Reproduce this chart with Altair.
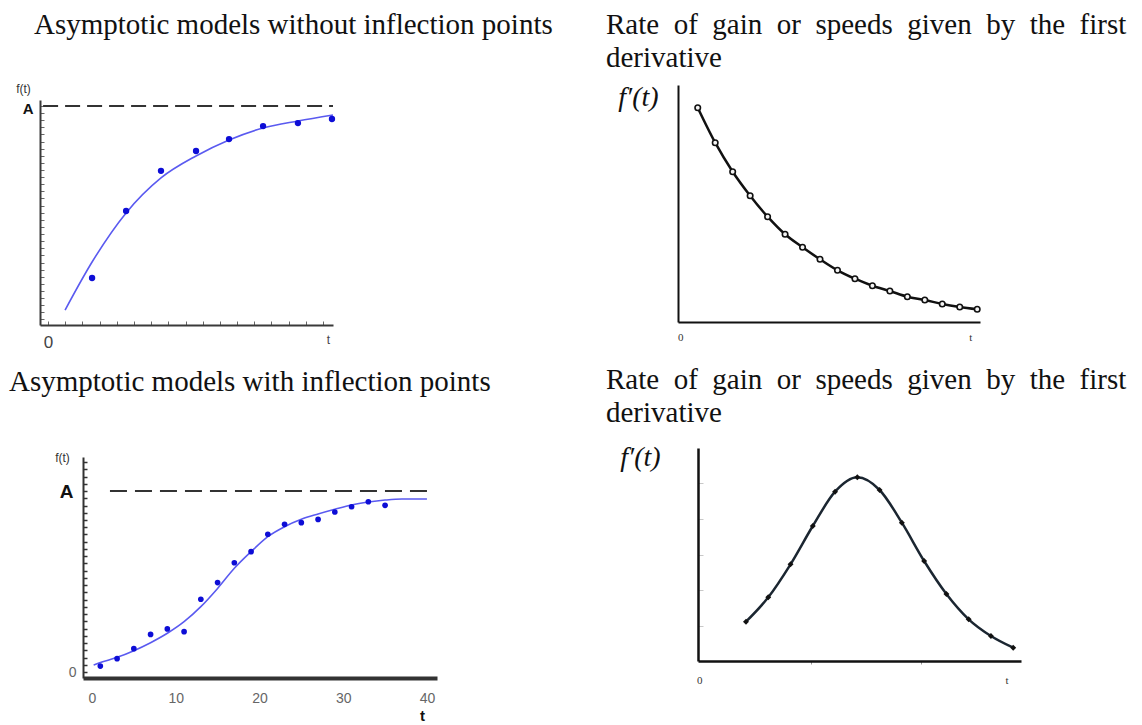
import altair as alt
import pandas as pd

SERIF = "Liberation Serif"
SANS = "Liberation Sans"
NB = "\u00a0"

# ---------------- data ----------------
# Panel 1: asymptotic model without inflection point
p1_obs_t = [2.56, 4.54, 6.57, 8.61, 10.53, 12.51, 14.54, 16.52]
p1_obs_f = [19.4, 50.8, 69.6, 78.9, 84.5, 90.6, 92.0, 93.9]
p1_fit_t = [0.99, 2.56, 4.54, 6.57, 8.61, 10.53, 12.51, 14.54, 16.58]
p1_fit_f = [4.4, 26.9, 49.9, 66.3, 76.6, 84.1, 89.7, 93.0, 95.8]
p1_asym_t = [-0.29, 16.58]
p1_asym_f = [100, 100]
p1_xticks = list(range(17))
p1_yticks = [round(i * 10 / 3, 3) for i in range(31)]

# Panel 2: first derivative (decreasing)
p2_t = list(range(1, 18))
p2_rate = [214.3, 179.3, 150.3, 126.3, 105.3, 87.7, 74.7, 62.7, 51.7,
           43.3, 36.3, 31.0, 25.3, 22.0, 18.0, 15.0, 12.7]
p2_xlabels = [0, 16.6]

# Panel 3: asymptotic model with inflection point
p3_obs_t = [1, 3, 5, 7, 9, 11, 13, 15, 17, 19, 21, 23, 25, 27, 29, 31, 33, 35]
p3_obs_f = [3.3, 7.4, 12.9, 20.8, 23.8, 22.3, 40.2, 49.4, 60.4, 66.5,
            76.1, 81.6, 82.5, 84.3, 88.4, 91.3, 94.1, 92.1]
p3_fit_t = [0.2, 1, 3, 5, 7, 9, 11, 13, 15, 17, 19, 21, 23, 25, 27, 29, 31, 33, 35, 37, 40]
p3_fit_f = [3.9, 5.2, 8.1, 11.8, 16.2, 21.4, 27.8, 36.1, 46.2, 57.3, 66.5,
            74.8, 80.3, 84.4, 87.3, 89.9, 92.3, 93.9, 95.0, 95.6, 95.6]
p3_asym_t = [2.15, 40.36]
p3_asym_f = [100, 100]
p3_xticks = [0, 10, 20, 30, 40]
p3_yticks = list(range(0, 117, 4))

# Panel 4: first derivative (bell shaped)
p4_t = list(range(1, 14))
p4_rate = [39.3, 63.7, 96.7, 135.0, 169.3, 183.7, 171.0, 138.3, 100.0, 67.0, 41.7, 25.0, 13.3]
p4_xticks = [-1.1, 3.9, 8.85, 12.7]
p4_yticks = [35.5, 71, 106.5, 142, 177.5]

rate_words = ["Rate", "of", "gain", "or", "speeds", "given", "by", "the", "first"]
titles = {
    "p1": "Asymptotic models without inflection points",
    "p2": [(NB + NB).join(rate_words), "derivative"],
    "p3": "Asymptotic models with inflection points",
}
titles["p4"] = titles["p2"]

W, H = 397, 240


def ttl(text, dx, offset):
    return alt.TitleParams(text=text, anchor="start", frame="group", dx=dx, offset=offset,
                           font=SERIF, fontSize=29, fontWeight="normal", color="#111",
                           lineHeight=33)


def df(**cols):
    return pd.DataFrame(cols)


# ---------------- panel 1 ----------------
x1 = alt.Scale(domain=[-0.47, 16.58], range=[0, 293], nice=False, zero=False)
y1 = alt.Scale(domain=[-2.6, 102.8], range=[240, 15], nice=False, zero=False)
ax1x = alt.Axis(values=p1_xticks, title=None, grid=False, domainColor="#3a3a3a", domainWidth=2,
                tickColor="#666", tickWidth=1, tickSize={"expr": "-4"},
                labelExpr="datum.value === 0 ? '0' : (datum.value === 16 ? 't' : '')",
                labelFont=SANS, labelColor="#444",
                labelFontSize={"condition": {"test": "datum.value === 16", "value": 12}, "value": 17},
                labelOffset={"condition": {"test": "datum.value === 16", "value": 5}, "value": 0},
                labelPadding=13, labelFlush=False, labelOverlap=False)
ax1y = alt.Axis(values=p1_yticks, grid=False, domainColor="#3a3a3a", domainWidth=2,
                tickColor="#666", tickWidth=1, tickSize={"expr": "-4"},
                labelExpr="abs(datum.value - 100) < 0.01 ? 'A' : ''",
                labelFont=SANS, labelFontSize=15, labelFontWeight="bold", labelColor="#111",
                labelPadding=11, labelOffset=3, labelFlush=False, labelOverlap=False,
                title="f(t)", titleFont=SANS, titleFontSize=12, titleFontWeight="normal",
                titleColor="#333", titleAngle=0, titleAlign="center", titleBaseline="middle",
                titleX=-17, titleY=3)


def enc1(ch, xf="t", yf="f"):
    return ch.encode(x=alt.X(xf, type="quantitative", scale=x1, axis=ax1x),
                     y=alt.Y(yf, type="quantitative", scale=y1, axis=ax1y))


p1_asym = enc1(alt.Chart(df(t=[p1_asym_t[0]], t2=[p1_asym_t[1]], f=[p1_asym_f[0]])).mark_rule(
    color="#333", strokeWidth=2, strokeDash=[15, 7])).encode(x2="t2")
p1_fit = enc1(alt.Chart(df(t=p1_fit_t, f=p1_fit_f)).mark_line(
    color="#5a5af0", strokeWidth=1.6, interpolate="monotone"))
p1_obs = enc1(alt.Chart(df(t=p1_obs_t, f=p1_obs_f)).mark_circle(
    color="#0d0dd6", size=40, opacity=1))
panel1 = alt.layer(p1_asym, p1_fit, p1_obs).properties(
    width=W, height=H, title=ttl(titles["p1"], -6, 42))

# ---------------- panel 2 ----------------
x2 = alt.Scale(domain=[-0.13, 17.16], range=[0, 302], nice=False, zero=False)
y2 = alt.Scale(domain=[0, 237], range=[237, 0], nice=False, zero=False)
ax2x = alt.Axis(values=p2_xlabels, title=None, grid=False, ticks=False, tickSize=0,
                domainColor="#111", domainWidth=2, offset=-3,
                labelExpr="datum.value === 0 ? '0' : 't'", labelFont=SERIF, labelFontSize=11,
                labelColor="#333", labelPadding=9, labelFlush=False, labelOverlap=False)
ax2y = alt.Axis(grid=False, ticks=False, labels=False, domainColor="#111", domainWidth=2,
                title="f\u2032(t)", titleFont=SERIF, titleFontStyle="italic", titleFontSize=28,
                titleFontWeight="normal", titleColor="#111", titleAngle=0, titleAlign="center",
                titleBaseline="middle", titleX=-40, titleY=12)


def enc2(ch):
    return ch.encode(x=alt.X("t", type="quantitative", scale=x2, axis=ax2x),
                     y=alt.Y("r", type="quantitative", scale=y2, axis=ax2y))


p2_line = enc2(alt.Chart(df(t=p2_t, r=p2_rate)).mark_line(
    color="#111", strokeWidth=2.5, interpolate="monotone"))
p2_pts = enc2(alt.Chart(df(t=p2_t, r=p2_rate)).mark_point(
    shape="circle", filled=True, fill="#f4f4f4", stroke="#111", strokeWidth=1.6, size=30, opacity=1))
panel2 = alt.layer(p2_line, p2_pts).properties(
    width=W, height=H, title=ttl(titles["p2"], -72, 10))

# ---------------- panel 3 ----------------
x3 = alt.Scale(domain=[-1.07, 41.2], range=[43, 397], nice=False, zero=False)
y3 = alt.Scale(domain=[-3.3, 118.8], range=[230, 9], nice=False, zero=False)
ax3x = alt.Axis(values=p3_xticks, grid=False, ticks=False, tickSize=0, offset=-10,
                domainColor="#333", domainWidth=4,
                labelFont=SANS, labelFontSize=14, labelColor="#666", labelPadding=13,
                labelFlush=False, labelOverlap=False,
                title="t", titleFont=SANS, titleFontSize=15, titleFontWeight="bold",
                titleColor="#111", titleAlign="center", titleBaseline="middle",
                titleX=382, titleY=37)
ax3y = alt.Axis(values=p3_yticks, grid=False, offset=-43, domainColor="#333", domainWidth=2,
                tickColor="#333", tickWidth=1.5, tickSize={"expr": "-4"},
                labelExpr="datum.value === 0 ? '0' : (datum.value === 100 ? 'A' : '')",
                labelFont=SANS,
                labelFontSize={"condition": {"test": "datum.value === 100", "value": 19}, "value": 14},
                labelFontWeight={"condition": {"test": "datum.value === 100", "value": "bold"}, "value": "normal"},
                labelColor={"condition": {"test": "datum.value === 100", "value": "#111"}, "value": "#666"},
                labelPadding={"condition": {"test": "datum.value === 100", "value": 14}, "value": 11},
                labelFlush=False, labelOverlap=False,
                title="f(t)", titleFont=SANS, titleFontSize=12, titleFontWeight="normal",
                titleColor="#333", titleAngle=0, titleAlign="center", titleBaseline="middle",
                titleX=-21, titleY=9)


def enc3(ch):
    return ch.encode(x=alt.X("t", type="quantitative", scale=x3, axis=ax3x),
                     y=alt.Y("f", type="quantitative", scale=y3, axis=ax3y))


p3_asym = enc3(alt.Chart(df(t=[p3_asym_t[0]], t2=[p3_asym_t[1]], f=[p3_asym_f[0]])).mark_rule(
    color="#333", strokeWidth=2, strokeDash=[17, 8])).encode(x2="t2")
p3_fit = enc3(alt.Chart(df(t=p3_fit_t, f=p3_fit_f)).mark_line(
    color="#5a5af0", strokeWidth=1.6, interpolate="monotone"))
p3_obs = enc3(alt.Chart(df(t=p3_obs_t, f=p3_obs_f)).mark_circle(
    color="#0d0dd6", size=32, opacity=1))
panel3 = alt.layer(p3_asym, p3_fit, p3_obs).properties(
    width=W, height=H, title=ttl(titles["p3"], -31, 51))

# ---------------- panel 4 ----------------
x4 = alt.Scale(domain=[-1.155, 13.35], range=[20, 343], nice=False, zero=False)
y4 = alt.Scale(domain=[0, 213], range=[213, 0], nice=False, zero=False)
ax4x = alt.Axis(values=p4_xticks, title=None, grid=False, offset=-27,
                domainColor="#111", domainWidth=2.5, tickColor="#999", tickSize=3,
                tickOpacity={"condition": {"test": "datum.value < 0 || datum.value > 12", "value": 0}, "value": 1},
                labelExpr="datum.value < 0 ? '0' : (datum.value > 12 ? 't' : '')",
                labelFont=SERIF, labelFontSize=11, labelColor="#333", labelPadding=10,
                labelFlush=False, labelOverlap=False)
ax4y = alt.Axis(values=p4_yticks, grid=False, labels=False, offset=-20,
                domainColor="#111", domainWidth=2.5, tickColor="#c8c8c8", tickSize={"expr": "-5"},
                title="f\u2032(t)", titleFont=SERIF, titleFontStyle="italic", titleFontSize=28,
                titleFontWeight="normal", titleColor="#111", titleAngle=0, titleAlign="center",
                titleBaseline="middle", titleX=-58, titleY=9)


def enc4(ch):
    return ch.encode(x=alt.X("t", type="quantitative", scale=x4, axis=ax4x),
                     y=alt.Y("r", type="quantitative", scale=y4, axis=ax4y))


p4_line = enc4(alt.Chart(df(t=p4_t, r=p4_rate)).mark_line(
    color="#1b2631", strokeWidth=2.5, interpolate="monotone"))
p4_pts = enc4(alt.Chart(df(t=p4_t, r=p4_rate)).mark_point(
    shape="diamond", filled=True, color="#111", size=35, opacity=1))
panel4 = alt.layer(p4_line, p4_pts).properties(
    width=W, height=H, title=ttl(titles["p4"], -72, 15))

chart = alt.concat(
    panel1, panel2, panel3, panel4,
    columns=2, spacing={"row": 123, "column": 241}, bounds="flush", align="all",
    padding={"left": 1, "top": 3, "right": 0, "bottom": 0},
    background="white",
).configure_view(strokeWidth=0).configure_axis(grid=False)

chart.save("out.html", embed_options={"renderer": "svg", "actions": False})
